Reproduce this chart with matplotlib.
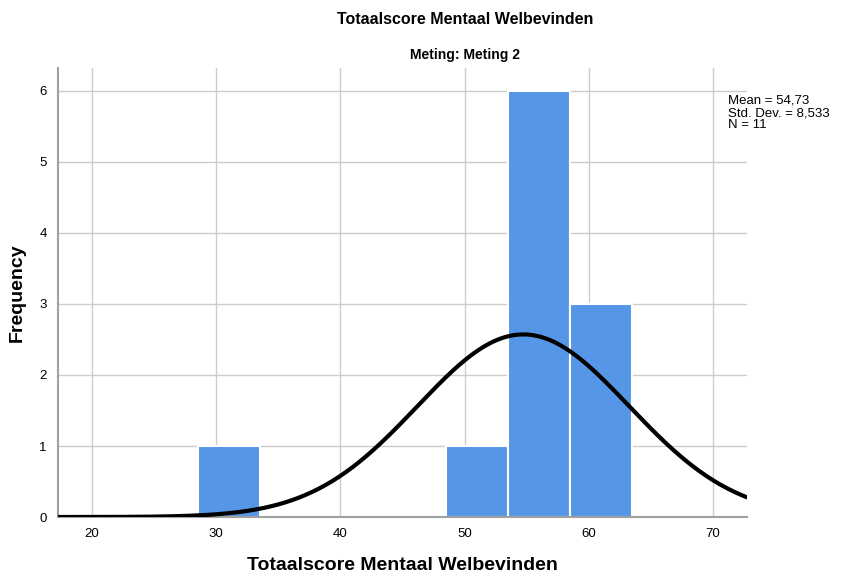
import numpy as np
import matplotlib.pyplot as plt

plt.rcParams['font.family'] = ['Liberation Sans', 'DejaVu Sans']

# histogram bins (left edge, right edge) and counts
bin_left = [28.5, 48.5, 53.5, 58.5]
bin_right = [33.5, 53.5, 58.5, 63.5]
counts = [1, 1, 6, 3]

mean = 54.73
sd = 8.533
n = 11
bin_width = 5

xmin, xmax = 17.26, 72.74
ymin, ymax = 0, 6.32

fig = plt.figure(figsize=(8.59, 5.78), dpi=100)
ax = fig.add_axes([0.0675, 0.1055, 0.8021, 0.7765])

ax.set_axisbelow(True)
ax.grid(True, color='#cccccc', linewidth=1.0)

widths = [r - l for l, r in zip(bin_left, bin_right)]
ax.bar(bin_left, counts, width=widths, align='edge', color='#5596e6',
       edgecolor='white', linewidth=1.5, zorder=2)

# normal curve scaled to counts
xs = np.linspace(xmin, xmax, 400)
ys = n * bin_width / (sd * np.sqrt(2 * np.pi)) * np.exp(-0.5 * ((xs - mean) / sd) ** 2)
ax.plot(xs, ys, color='black', linewidth=3, zorder=3, solid_capstyle='round')

ax.set_xlim(xmin, xmax)
ax.set_ylim(ymin, ymax)
ax.set_xticks([20, 30, 40, 50, 60, 70])
ax.set_yticks(range(0, 7))
ax.tick_params(length=0, labelsize=9.5, pad=8)
for s in ['top', 'right']:
    ax.spines[s].set_visible(False)
for s in ['left', 'bottom']:
    ax.spines[s].set_color('#a0a0a0')
    ax.spines[s].set_linewidth(1.5)

ax.set_xlabel('Totaalscore Mentaal Welbevinden', fontsize=14, fontweight='bold')
ax.set_ylabel('Frequency', fontsize=14, fontweight='bold')
ax.xaxis.set_label_coords(0.5, -0.107)
ax.yaxis.set_label_coords(-0.0595, 0.5)
ax.xaxis.label.set_va('center')
ax.yaxis.label.set_va('center')

fig.text(465 / 859, 1 - 20 / 578, 'Totaalscore Mentaal Welbevinden', ha='center', va='center',
         fontsize=11.5, fontweight='bold')
fig.text(465 / 859, 1 - 55 / 578, 'Meting: Meting 2', ha='center', va='center',
         fontsize=10, fontweight='bold')

mean_txt = f'{mean:.2f}'.replace('.', ',')
sd_txt = f'{sd:.3f}'.replace('.', ',')
fig.text(728 / 859, 1 - 113 / 578,
         f'Mean = {mean_txt}\nStd. Dev. = {sd_txt}\nN = {n}',
         ha='left', va='center', fontsize=9.5, linespacing=1.05)

fig.savefig('out.png', dpi=100)
